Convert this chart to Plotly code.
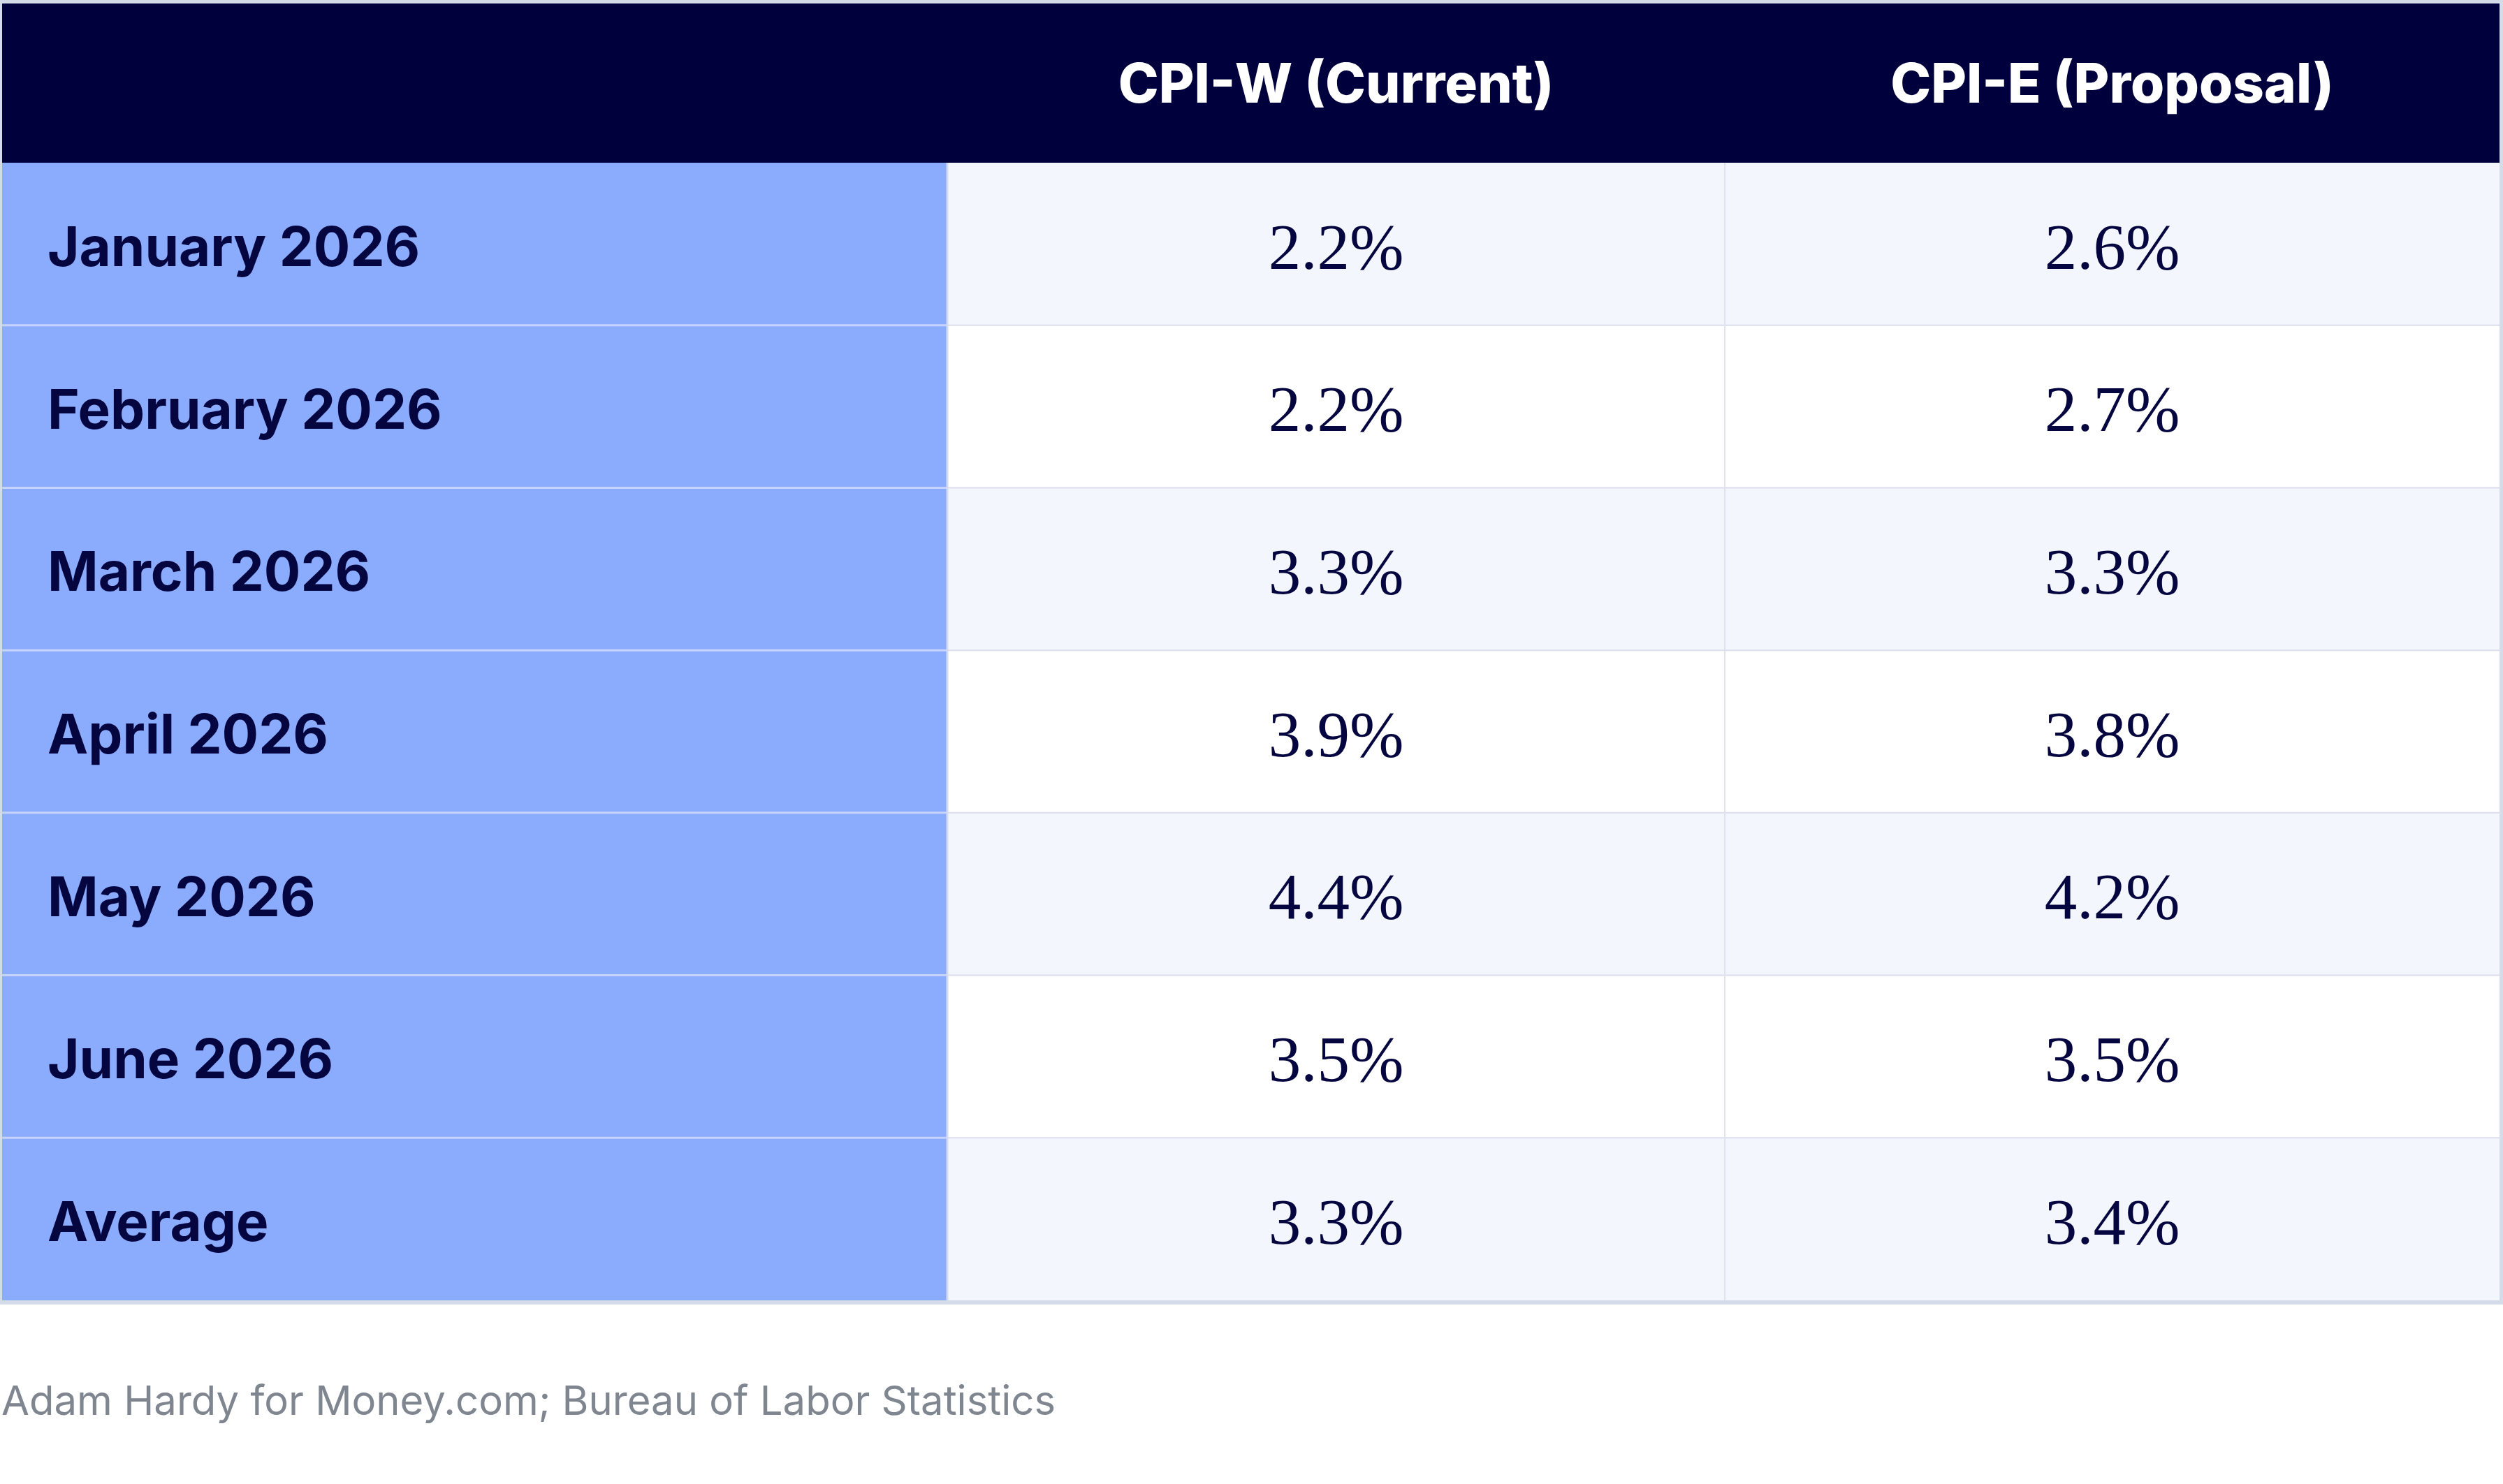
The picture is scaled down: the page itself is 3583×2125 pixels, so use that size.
import plotly.graph_objects as go

# table content
months = ['January 2026', 'February 2026', 'March 2026', 'April 2026',
          'May 2026', 'June 2026', 'Average']
cpi_w = [2.2, 2.2, 3.3, 3.9, 4.4, 3.5, 3.3]
cpi_e = [2.6, 2.7, 3.3, 3.8, 4.2, 3.5, 3.4]
headers = ['', 'CPI-W (Current)', 'CPI-E (Proposal)']
source = 'Adam Hardy for Money.com; Bureau of Labor Statistics'

W, H = 3583, 2125
NAVY = '#00003c'
TEXT = '#05053f'
LABEL_BG = '#8babfd'
ALT_BG = '#f3f6fd'
BORDER = '#d3dce8'

# geometry (pixel units on the axes)
left, right = 3, 3578
top, head_bot, bottom = 5, 233, 1862
col_edges = [left, 1356, 2469, right]
row_h = (bottom - head_bot) / len(months)
col_mid = [(col_edges[i] + col_edges[i + 1]) / 2 for i in range(3)]
text_dy = 12  # text sits a touch below the cell centre

shapes = []
# outer frame
shapes.append(dict(type='rect', x0=0, x1=W, y0=0, y1=bottom + 6,
                   fillcolor=BORDER, line_width=0, layer='below'))
# header band
shapes.append(dict(type='rect', x0=left, x1=right, y0=top, y1=head_bot,
                   fillcolor=NAVY, line_width=0, layer='below'))

row_mid = []
for i in range(len(months)):
    y0 = head_bot + i * row_h
    y1 = y0 + row_h
    row_mid.append((y0 + y1) / 2 + text_dy)
    shapes.append(dict(type='rect', x0=left, x1=col_edges[1], y0=y0, y1=y1,
                       fillcolor=LABEL_BG, line_width=0, layer='below'))
    shapes.append(dict(type='rect', x0=col_edges[1], x1=right, y0=y0, y1=y1,
                       fillcolor=ALT_BG if i % 2 == 0 else 'white',
                       line_width=0, layer='below'))
    if i > 0:
        shapes.append(dict(type='line', x0=left, x1=col_edges[1], y0=y0, y1=y0,
                           line=dict(color='#c6d3fb', width=3), layer='below'))
        shapes.append(dict(type='line', x0=col_edges[1], x1=right, y0=y0, y1=y0,
                           line=dict(color='#dcdeec', width=2), layer='below'))

# vertical separators
shapes.append(dict(type='line', x0=col_edges[1], x1=col_edges[1], y0=head_bot, y1=bottom,
                   line=dict(color='#d2daf3', width=3), layer='below'))
shapes.append(dict(type='line', x0=col_edges[2], x1=col_edges[2], y0=head_bot, y1=bottom,
                   line=dict(color='#dde2ee', width=2), layer='below'))

fig = go.Figure()

# header text
fig.add_trace(go.Scatter(
    x=col_mid[1:], y=[(top + head_bot) / 2 + 8] * 2, text=headers[1:],
    mode='text', textposition='middle center',
    textfont=dict(family='Inter, Roboto, sans-serif', size=78, color='white', weight=800),
    hoverinfo='skip', showlegend=False))

# row labels
fig.add_trace(go.Scatter(
    x=[68] * len(months), y=row_mid, text=months,
    mode='text', textposition='middle right',
    textfont=dict(family='Inter, Roboto, sans-serif', size=78, color=TEXT, weight=700),
    hoverinfo='skip', showlegend=False))

# values
for j, vals in enumerate([cpi_w, cpi_e]):
    fig.add_trace(go.Scatter(
        x=[col_mid[j + 1]] * len(vals), y=row_mid,
        text=[f'{v:.1f}%' for v in vals],
        mode='text', textposition='middle center',
        textfont=dict(family='Liberation Serif, DejaVu Serif, serif', size=93, color=TEXT),
        hoverinfo='skip', showlegend=False))

fig.add_annotation(x=0, y=2005, xref='x', yref='y', text=source, showarrow=False,
                   xanchor='left', yanchor='middle',
                   font=dict(family='Inter, Roboto, sans-serif', size=58, color='#7f8690'))

fig.update_layout(
    width=W, height=H,
    margin=dict(l=0, r=0, t=0, b=0),
    paper_bgcolor='white', plot_bgcolor='white',
    shapes=shapes,
    showlegend=False,
)
fig.update_xaxes(range=[0, W], visible=False, fixedrange=True)
fig.update_yaxes(range=[H, 0], visible=False, fixedrange=True)

fig.write_html('out.html', config={'displayModeBar': False},
               post_script="document.body.style.margin = '0';")
